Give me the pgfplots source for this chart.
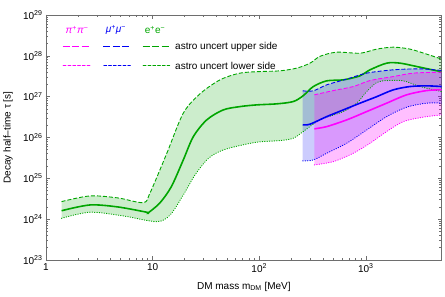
\documentclass[border=0pt]{standalone}
\usepackage{pgfplots}
\pgfplotsset{compat=1.18}
\usepgfplotslibrary{fillbetween}
\usepackage{fontspec}
\setmainfont{Liberation Sans}
\definecolor{cgreen}{RGB}{0,165,0}
\definecolor{cblue}{RGB}{0,0,245}
\definecolor{cmag}{RGB}{255,0,255}
\definecolor{axgray}{RGB}{110,110,110}
\tikzset{lowdot/.style={line width=1pt, line cap=round, dash pattern=on 0.4pt off 2pt}}
\begin{document}
\begin{tikzpicture}
\begin{axis}[
  scale only axis, width=395.7pt, height=245pt,
  xmode=log, ymode=log,
  xmin=1, xmax=5150, ymin=1e23, ymax=1e29,
  xtick={1,10,100,1000}, xticklabels={1,10,10\textsuperscript{2},10\textsuperscript{3}},
  ytick={1e23,1e24,1e25,1e26,1e27,1e28,1e29},
  yticklabels={10\textsuperscript{23},10\textsuperscript{24},10\textsuperscript{25},10\textsuperscript{26},10\textsuperscript{27},10\textsuperscript{28},10\textsuperscript{29}},
  tick label style={font=\fontsize{10}{12}\selectfont},
  axis line style={axgray, line width=0.9pt},
  tick style={axgray, line width=0.6pt},
  major tick length=4pt, minor tick length=2.5pt,
  tick align=inside,
  every axis x label/.style={at={(axis description cs:0.5,-0.109)}, anchor=center},
  every axis y label/.style={at={(axis description cs:-0.096,0.5)}, rotate=90, anchor=center},
  xlabel={DM mass m\textsubscript{DM} [MeV]},
  ylabel={Decay half–time τ [s]},
  label style={font=\fontsize{10}{12}\selectfont},
  clip=true,
]
% e+e- upper
\addplot[name path=GU, cgreen, line width=0.9pt, dash pattern=on 4pt off 2pt, smooth] coordinates {
(1.40,2.69e24)(2.59,3.71e24)(4.73,3.31e24)(8.18,2.54e24)(9.46,4.39e24)(13.6,4.12e25)(19.4,3.94e26)(27.8,1.17e27)(42.9,2.58e27)(66.0,3.77e27)(102,4.12e27)(157,4.29e27)(225,5.00e27)(300,6.62e27)(372,9.73e27)(533,1.23e28)(883,1.16e28)(1265,1.46e28)(1812,1.63e28)(2600,1.46e28)(3724,1.10e28)(5150,8.30e27)};
% e+e- lower
\addplot[name path=GL, cgreen, lowdot, smooth] coordinates {
(1.40,1.05e24)(2.59,1.48e24)(5.31,1.20e24)(10.9,8.69e23)(14.6,1.27e24)(19.4,3.92e24)(25.0,1.21e25)(32.2,2.82e25)(39.9,4.20e25)(53.2,5.56e25)(94.8,7.68e25)(157,8.40e25)(209,9.61e25)(259,1.40e26)(372,2.70e26)(615,4.31e26)(822,6.94e26)(1019,1.33e27)(1265,2.22e27)(1570,2.48e27)(2249,2.44e27)(3224,1.77e27)(5150,1.33e27)};
\addplot[cgreen, fill opacity=0.2, draw=none] fill between[of=GU and GL];
% mu+mu- upper / lower
\addplot[name path=BU, draw=none, smooth, forget plot] coordinates {
(256,1.39e27)(322,1.39e27)(430,1.95e27)(662,2.69e27)(1019,3.77e27)(1812,4.54e27)(3224,4.80e27)(5150,4.37e27)};
\addplot[name path=BL, draw=none, smooth, forget plot] coordinates {
(256,2.67e25)(322,2.82e25)(430,4.12e25)(662,7.24e25)(1019,1.53e26)(1570,3.25e26)(2420,5.53e26)(3724,6.94e26)(5150,6.94e26)};
\addplot[cblue, fill opacity=0.2, draw=none] fill between[of=BU and BL];
% pi+pi- upper / lower
\addplot[name path=MU, draw=none, smooth, forget plot] coordinates {
(329,1.11e27)(496,1.41e27)(764,1.77e27)(1095,2.48e27)(1812,3.11e27)(2790,3.77e27)(5150,3.98e27)};
\addplot[name path=ML, draw=none, smooth, forget plot] coordinates {
(329,2.13e25)(496,2.57e25)(764,4.12e25)(1095,7.24e25)(1570,1.40e26)(2249,2.45e26)(3460,3.15e26)(5150,3.58e26)};
\addplot[cmag, fill opacity=0.25, draw=none] fill between[of=MU and ML];
% e+e- central
\addplot[cgreen, line width=1.6pt, smooth] coordinates {
(1.40,1.61e24)(2.59,2.23e24)(4.73,1.99e24)(8.81,1.48e24)(9.12,1.44e24)(11.7,2.50e24)(15.0,6.27e24)(19.4,2.82e25)(24.1,1.05e26)(32.2,2.70e26)(46.0,4.74e26)(66.0,5.71e26)(94.8,6.29e26)(146,6.67e26)(209,7.6e26)(259,1.06e27)(322,1.77e27)(430,2.44e27)(615,2.58e27)(883,3.24e27)(1095,4.54e27)(1570,6.62e27)(2094,6.62e27)(3006,5.47e27)(5150,4.06e27)};
% mu+mu- lines
\addplot[cblue, line width=0.9pt, dash pattern=on 4pt off 2pt, smooth] coordinates {
(256,1.39e27)(322,1.39e27)(430,1.95e27)(662,2.69e27)(1019,3.77e27)(1812,4.54e27)(3224,4.80e27)(5150,4.37e27)};
\addplot[cblue, lowdot, smooth] coordinates {
(256,2.67e25)(322,2.82e25)(430,4.12e25)(662,7.24e25)(1019,1.53e26)(1570,3.25e26)(2420,5.53e26)(3724,6.94e26)(5150,6.94e26)};
\addplot[cblue, line width=1.6pt, smooth] coordinates {
(256,2.04e26)(300,2.12e26)(430,3.25e26)(615,4.74e26)(883,6.94e26)(1265,1.00e27)(1812,1.47e27)(2600,1.77e27)(3724,1.84e27)(5150,1.77e27)};
% pi+pi- lines
\addplot[cmag, line width=0.9pt, dash pattern=on 4pt off 2pt, smooth] coordinates {
(329,1.11e27)(496,1.41e27)(764,1.77e27)(1095,2.48e27)(1812,3.11e27)(2790,3.77e27)(5150,3.98e27)};
\addplot[cmag, lowdot, smooth] coordinates {
(329,2.13e25)(496,2.57e25)(764,4.12e25)(1095,7.24e25)(1570,1.40e26)(2249,2.45e26)(3460,3.15e26)(5150,3.58e26)};
\addplot[cmag, line width=1.6pt, smooth] coordinates {
(329,1.63e26)(430,1.85e26)(662,2.70e26)(1019,4.31e26)(1570,6.94e26)(2420,1.11e27)(3724,1.41e27)(5150,1.47e27)};
\end{axis}
% legend
\begin{scope}[font=\fontsize{10}{12}\selectfont]
\node[text=cmag] at (31pt,230pt) {\textit{π}\textsuperscript{+}\textit{π}\textsuperscript{−}};
\node[text=cblue] at (70pt,230pt) {\textit{μ}\textsuperscript{+}\textit{μ}\textsuperscript{−}};
\node[text=cgreen] at (109pt,230pt) {e\textsuperscript{+}e\textsuperscript{−}};
\draw[draw=cmag, line width=1.2pt, dash pattern=on 7pt off 2.5pt] (16.7pt,213.5pt) -- (45pt,213.5pt);
\draw[draw=cblue, line width=1.2pt, dash pattern=on 7pt off 2.5pt] (57.3pt,213.5pt) -- (84.7pt,213.5pt);
\draw[draw=cgreen, line width=1.2pt, dash pattern=on 7pt off 2.5pt] (96.7pt,213.5pt) -- (124pt,213.5pt);
\draw[draw=cmag, line width=1.2pt, line cap=round, dash pattern=on 2.6pt off 2.2pt] (17.3pt,194.5pt) -- (44.5pt,194.5pt);
\draw[draw=cblue, line width=1.2pt, line cap=round, dash pattern=on 2.6pt off 2.2pt] (57.9pt,194.5pt) -- (84.2pt,194.5pt);
\draw[draw=cgreen, line width=1.2pt, line cap=round, dash pattern=on 2.6pt off 2.2pt] (97.3pt,194.5pt) -- (123.5pt,194.5pt);
\node[anchor=west, inner sep=0pt] at (129pt,213.5pt) {astro uncert upper side};
\node[anchor=west, inner sep=0pt] at (129pt,194.5pt) {astro uncert lower side};
\end{scope}
\pgfresetboundingbox
\useasboundingbox (-46pt,-37pt) rectangle (399pt,260pt);
\end{tikzpicture}
\end{document}
